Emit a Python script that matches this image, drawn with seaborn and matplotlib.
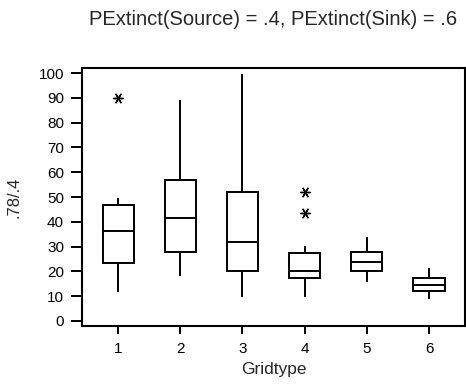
import pandas as pd
import matplotlib.pyplot as plt
import seaborn as sns

# Five-number summaries (min, q1, median, q3, max)
gridtypes = ['1', '2', '3', '4', '5', '6']
low = [11.5, 18.2, 9.8, 9.8, 15.8, 8.8]
q1 = [23.3, 27.8, 20.2, 17.5, 20.0, 12.0]
median = [36.5, 41.6, 31.8, 20.2, 24.0, 14.5]
q3 = [46.6, 57.0, 52.0, 27.4, 28.0, 17.5]
high = [49.5, 89.0, 99.5, 30.2, 34.0, 21.5]

# Outliers (asterisks)
outlier_grid = ['1', '4', '4']
outlier_vals = [90.0, 52.0, 43.5]

rows = []
for i, g in enumerate(gridtypes):
    for v in (low[i], q1[i], median[i], q3[i], high[i]):
        rows.append({'Gridtype': g, 'value': v})
df = pd.DataFrame(rows)
df_out = pd.DataFrame({'Gridtype': outlier_grid, 'value': outlier_vals})

sns.set_style('ticks')
plt.rcParams['font.family'] = ['Liberation Sans', 'DejaVu Sans']

fig = plt.figure(figsize=(4.66, 3.85), dpi=100)
ax = fig.add_axes([0.176, 0.154, 0.822, 0.669])

lw = 1.4
sns.boxplot(data=df, x='Gridtype', y='value', order=gridtypes, whis=(0, 100),
            width=0.5, showcaps=False, color='white', linecolor='black',
            linewidth=lw, ax=ax,
            boxprops=dict(facecolor='white', edgecolor='black', linewidth=lw),
            medianprops=dict(color='black', linewidth=lw),
            whiskerprops=dict(color='black', linewidth=lw))

sns.stripplot(data=df_out, x='Gridtype', y='value', order=gridtypes, jitter=False,
              marker=(6, 2, 90), color='black', size=7, linewidth=1.0,
              edgecolor='black', ax=ax)

ax.set_xlim(-0.58, 5.58)
ax.set_ylim(-1.9, 102)
ax.set_yticks(range(0, 101, 10))

for s in ax.spines.values():
    s.set_visible(True)
    s.set_linewidth(1.5)
    s.set_color('black')

ax.tick_params(axis='y', direction='out', length=8, width=1.4, labelsize=11,
               pad=5, colors='black')
ax.tick_params(axis='x', direction='out', length=6, width=1.4, labelsize=11,
               pad=6, colors='black')
ax.set_xlabel('Gridtype', fontsize=12.5, labelpad=4)
ax.set_ylabel('.78/.4', fontsize=12, labelpad=12)
ax.set_title('PExtinct(Source) = .4, PExtinct(Sink) = .6', fontsize=14.5, pad=31)

fig.savefig('out.png', dpi=100)
